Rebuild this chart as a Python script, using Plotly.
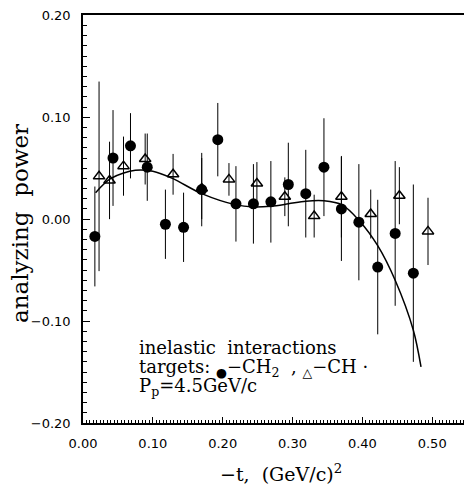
import plotly.graph_objects as go

# CH2 target (filled circles)
ch2_t = [0.017, 0.043, 0.068, 0.092, 0.118, 0.144, 0.170, 0.193, 0.219, 0.244,
         0.269, 0.294, 0.319, 0.345, 0.370, 0.395, 0.422, 0.447, 0.473]
ch2_a = [-0.017, 0.060, 0.072, 0.051, -0.005, -0.008, 0.029, 0.078, 0.015, 0.015,
         0.017, 0.034, 0.025, 0.051, 0.010, -0.003, -0.047, -0.014, -0.053]
ch2_err = [0.049, 0.047, 0.032, 0.033, 0.034, 0.034, 0.036, 0.036, 0.037, 0.039,
           0.040, 0.041, 0.043, 0.048, 0.051, 0.057, 0.066, 0.071, 0.087]

# CH target (open triangles)
ch_t = [0.023, 0.038, 0.058, 0.089, 0.129, 0.170, 0.209, 0.249, 0.289, 0.331,
        0.370, 0.412, 0.453, 0.494]
ch_a = [0.042, 0.038, 0.052, 0.059, 0.044, 0.030, 0.039, 0.035, 0.022, 0.003,
        0.022, 0.005, 0.023, -0.012]
ch_err = [0.093, 0.038, 0.029, 0.025, 0.020, 0.030, 0.016, 0.021, 0.019, 0.021,
          0.040, 0.024, 0.028, 0.033]

# fitted curve
fit_t = [0.018, 0.040, 0.075, 0.100, 0.128, 0.170, 0.219, 0.244, 0.269, 0.294,
         0.319, 0.345, 0.371, 0.395, 0.422, 0.447, 0.473, 0.484]
fit_a = [0.026, 0.040, 0.048, 0.047, 0.040, 0.025, 0.014, 0.012, 0.0127, 0.015,
         0.0176, 0.018, 0.014, -0.001, -0.026, -0.060, -0.109, -0.145]

y_ticks = [-0.2, -0.1, 0.0, 0.1, 0.2]
x_ticks = [0.0, 0.1, 0.2, 0.3, 0.4, 0.5]

SERIF = "DejaVu Serif"
SANS = "DejaVu Sans"

fig = go.Figure()
fig.add_trace(go.Scatter(
    x=fit_t, y=fit_a, mode="lines",
    line={"color": "black", "width": 1.5, "shape": "spline", "smoothing": 0.9},
    hoverinfo="skip",
))
fig.add_trace(go.Scatter(
    x=ch_t, y=ch_a, mode="markers",
    marker={"symbol": "triangle-up-open", "size": 10, "color": "black", "line": {"width": 1.5}},
    error_y={"type": "data", "array": ch_err, "color": "black", "thickness": 1, "width": 0},
))
fig.add_trace(go.Scatter(
    x=ch2_t, y=ch2_a, mode="markers",
    marker={"symbol": "circle", "size": 11, "color": "black"},
    error_y={"type": "data", "array": ch2_err, "color": "black", "thickness": 1, "width": 0},
))

# the page body has an 8px margin, so the figure is 8px smaller than the window
tick_font = {"family": SANS, "size": 13, "color": "black"}
fig.update_layout(
    width=464,
    height=476,
    margin={"l": 75, "r": 0, "t": 5, "b": 61},
    paper_bgcolor="white",
    plot_bgcolor="white",
    showlegend=False,
    xaxis={
        "range": [0, 0.557], "tickmode": "array", "tickvals": x_ticks, "tickformat": ".2f",
        "ticks": "inside", "ticklen": 6, "tickcolor": "black", "ticklabelstandoff": 8,
        "ticklabeloverflow": "allow",
        "minor": {"dtick": 0.005, "tick0": 0, "ticks": "inside", "ticklen": 3,
                  "tickcolor": "black"},
        "showline": True, "linecolor": "black", "linewidth": 1.5, "mirror": True,
        "showgrid": False, "zeroline": False, "tickfont": tick_font,
    },
    yaxis={
        "range": [-0.2, 0.2003], "tickmode": "array", "tickvals": y_ticks, "tickformat": ".2f",
        "ticks": "inside", "ticklen": 7, "tickcolor": "black", "ticklabelstandoff": 8,
        "ticklabeloverflow": "allow",
        "minor": {"dtick": 0.01, "tick0": 0, "ticks": "inside", "ticklen": 4,
                  "tickcolor": "black"},
        "showline": True, "linecolor": "black", "linewidth": 1.5, "mirror": False,
        "showgrid": False, "zeroline": False, "tickfont": tick_font,
    },
)

text_font = {"family": SERIF, "size": 18, "color": "black"}
for y, txt in [
    (-0.126, "inelastic  interactions"),
    (-0.146, "targets: <sub>●</sub>−CH<sub>2</sub>  , <sub>△</sub>−CH ·"),
    (-0.165, "P<sub>p</sub>=4.5GeV/c"),
]:
    fig.add_annotation(x=0.077, y=y, xref="x", yref="y", text=txt, showarrow=False,
                       xanchor="left", yanchor="middle", font=text_font)

fig.add_annotation(x=-0.162, y=0.49, xref="paper", yref="paper", text="analyzing  power",
                   textangle=-90, showarrow=False, xanchor="center", yanchor="middle",
                   font={"family": SERIF, "size": 23, "color": "black"})
fig.add_annotation(x=0.51, y=-0.122, xref="paper", yref="paper", text="−t,  (GeV/c)<sup>2</sup>",
                   showarrow=False, xanchor="center", yanchor="middle",
                   font={"family": SERIF, "size": 19, "color": "black"})

fig.write_html("out.html")
